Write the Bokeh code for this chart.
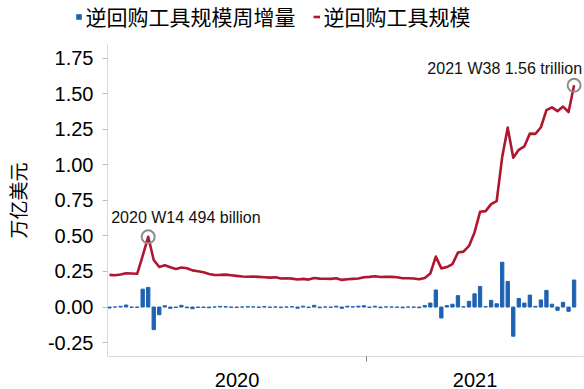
import numpy as np
from bokeh.plotting import figure
from bokeh.layouts import column
from bokeh.models import (ColumnDataSource, Range1d, FixedTicker, NumeralTickFormatter,
                          Legend, LegendItem, Plot, Rect, Line)
from bokeh.core.properties import value
from bokeh.embed import file_html
from bokeh.resources import INLINE

# ---------------- data ----------------
years = ["2020", "2021"]
weeks_2020 = [f"2020 W{w}" for w in range(7, 54)]
weeks_2021 = [f"2021 W{w}" for w in range(1, 39)]
weeks = weeks_2020 + weeks_2021

# reverse repo facility size (trillion USD)
rrp_size = [
    0.226, 0.224, 0.229, 0.238, 0.236, 0.234, 0.360, 0.494, 0.331, 0.282,
    0.294, 0.280, 0.268, 0.278, 0.273, 0.258, 0.252, 0.245, 0.233, 0.225,
    0.226, 0.228, 0.224, 0.219, 0.215, 0.213, 0.214, 0.212, 0.210, 0.207,
    0.210, 0.201, 0.203, 0.200, 0.194, 0.198, 0.193, 0.204, 0.200, 0.199,
    0.198, 0.203, 0.191, 0.195, 0.198, 0.201, 0.209, 0.212, 0.217, 0.211,
    0.212, 0.212, 0.210, 0.203, 0.203, 0.201, 0.195, 0.205, 0.236, 0.355,
    0.272, 0.281, 0.302, 0.383, 0.390, 0.430, 0.525, 0.670, 0.675, 0.724,
    0.745, 1.055, 1.262, 1.050, 1.106, 1.130, 1.220, 1.218, 1.265, 1.385,
    1.405, 1.378, 1.410, 1.372, 1.560,
]

# weekly change (trillion USD)
rrp_change = [
    -0.007, 0.000, 0.005, 0.014, -0.002, -0.002, 0.126, 0.138, -0.159, -0.054,
    0.009, -0.009, -0.003, 0.012, -0.005, -0.012, -0.003, -0.003, -0.005, 0.000,
    0.005, 0.002, -0.002, -0.003, 0.000, 0.003, 0.001, -0.002, 0.003, -0.002,
    0.000, -0.004, 0.000, 0.003, -0.008, 0.006, -0.004, 0.012, -0.005, 0.000,
    -0.002, 0.006, -0.009, 0.006, 0.002, 0.006, 0.009, -0.003, 0.006, -0.005,
    0.001, 0.000, -0.002, -0.005, 0.000, -0.002, -0.005, 0.010, 0.028, 0.120,
    -0.077, 0.010, 0.020, 0.080, 0.002, 0.040, 0.093, 0.145, 0.003, 0.047,
    0.023, 0.315, 0.180, -0.205, 0.060, 0.028, 0.084, 0.005, 0.050, 0.117,
    0.020, -0.023, 0.033, -0.030, 0.190,
]

y_ticks = [-0.25, 0.0, 0.25, 0.5, 0.75, 1.0, 1.25, 1.5, 1.75]
legend_labels = ["逆回购工具规模周增量", "逆回购工具规模"]
y_label = "万亿美元"

# ---------------- styles ----------------
BLUE = "#1E62B2"
RED = "#B01630"
LATIN = "Liberation Sans"
CJK = "Noto Sans CJK SC"

x = np.arange(len(weeks))
src = ColumnDataSource(dict(x=x, week=weeks, size=rrp_size, chg=rrp_change))

x_start, x_end = -0.36, len(weeks) + 0.7
p = figure(width=584, height=345, output_backend="svg", toolbar_location=None,
           x_range=Range1d(x_start, x_end), y_range=Range1d(-0.348, 1.847),
           min_border_left=107, min_border_right=1, min_border_top=0,
           min_border_bottom=32)
p.frame_align = False
p.outline_line_color = None
p.xgrid.grid_line_color = None
p.ygrid.grid_line_color = None
p.background_fill_color = "white"

bars = p.vbar(x="x", top="chg", width=0.6, color=BLUE, source=src)
line = p.line(x="x", y="size", line_color=RED, line_width=2.6,
              line_join="round", source=src)

# annotations on peak and last value
i_peak = weeks.index("2020 W14")
i_last = len(weeks) - 1
p.scatter(x=[x[i_peak], x[i_last]], y=[rrp_size[i_peak], rrp_size[i_last]],
          marker="circle", size=13, fill_color=None, line_color="#8C8C8C",
          line_width=2)
p.text(x=[x[i_peak]], y=[rrp_size[i_peak]],
       text=[f"{weeks[i_peak]} {rrp_size[i_peak]*1000:.0f} billion"],
       text_font=value(LATIN), text_font_size="16px", text_color="#111111",
       text_align="left", text_baseline="middle", x_offset=-37, y_offset=-19)
p.text(x=[x[i_last]], y=[rrp_size[i_last]],
       text=[f"{weeks[i_last]} {rrp_size[i_last]:.2f} trillion"],
       text_font=value(LATIN), text_font_size="16px", text_color="#111111",
       text_align="right", text_baseline="middle", x_offset=8, y_offset=-17)

# y axis
ya = p.yaxis[0]
ya.ticker = FixedTicker(ticks=y_ticks)
ya.formatter = NumeralTickFormatter(format="0.00")
ya.major_label_text_font = LATIN
ya.major_label_text_font_size = "20px"
ya.major_label_text_color = "#000000"
ya.axis_line_color = "#D9D9D9"
ya.major_tick_line_color = "#BFBFBF"
ya.major_tick_out = 5
ya.major_tick_in = 0
ya.minor_tick_line_color = None
ya.major_label_standoff = 9
ya.axis_label = y_label
ya.axis_label_text_font = CJK
ya.axis_label_text_font_size = "19px"
ya.axis_label_text_font_style = "normal"
ya.axis_label_text_color = "#000000"
ya.axis_label_standoff = 14

# x axis: year labels centred in their span, tick at the year boundary
n2020 = len(weeks_2020)
boundary = n2020 - 0.5
c2020 = (x_start + boundary) / 2
c2021 = (boundary + x_end) / 2
xa = p.xaxis[0]
xa.ticker = FixedTicker(ticks=[c2020, c2021], minor_ticks=[boundary])
xa.major_label_overrides = {c2020: years[0], c2021: years[1]}
xa.major_label_text_font = LATIN
xa.major_label_text_font_size = "20px"
xa.major_label_text_color = "#000000"
xa.axis_line_color = "#D9D9D9"
xa.major_tick_out = 0
xa.major_tick_in = 0
xa.major_tick_line_color = None
xa.minor_tick_line_color = "#7F7F7F"
xa.minor_tick_out = 5
xa.minor_tick_in = 0
xa.major_label_standoff = 11

# legend strip above the plot (a bare Plot without axes)
lf = Plot(width=584, height=44, output_backend="svg", toolbar_location=None,
          x_range=Range1d(0, 1), y_range=Range1d(0, 1),
          min_border_left=0, min_border_right=0, min_border_top=0,
          min_border_bottom=0, outline_line_color=None)
lf.frame_align = False
dummy = ColumnDataSource(dict(x=[-10.0], y=[-10.0]))
sq = lf.add_glyph(dummy, Rect(x="x", y="y", width=0.1, height=0.1,
                              fill_color=BLUE, line_color=None))
ln = lf.add_glyph(dummy, Line(x="x", y="y", line_color=RED, line_width=2.6))
legend = Legend(items=[LegendItem(label=legend_labels[0], renderers=[sq]),
                       LegendItem(label=legend_labels[1], renderers=[ln])],
                orientation="horizontal", location=(74.5, 13),
                label_text_font=CJK, label_text_font_size="21px",
                label_text_color="#000000",
                glyph_width=7, glyph_height=7, label_standoff=4, spacing=17,
                padding=0, margin=0, border_line_color=None,
                background_fill_alpha=0)
lf.add_layout(legend, "center")

layout = column(lf, p, spacing=0)
open("out.html", "w").write(file_html(layout, INLINE))
